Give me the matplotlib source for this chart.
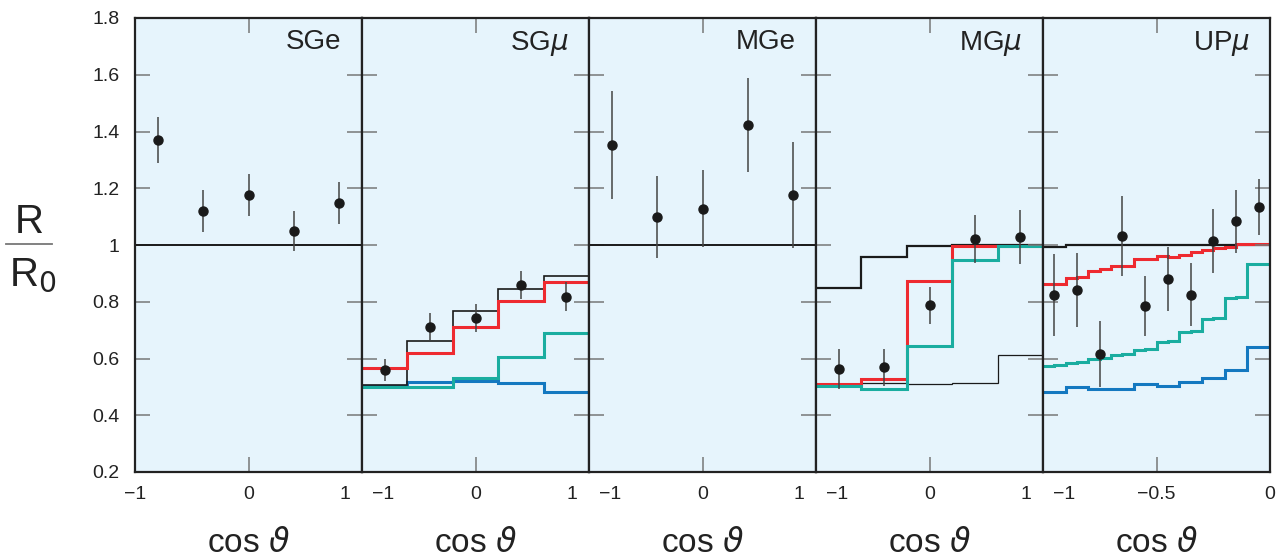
import matplotlib.pyplot as plt
import numpy as np
from matplotlib.lines import Line2D
from matplotlib.transforms import ScaledTranslation

plt.rcParams['font.family'] = ['Liberation Sans', 'DejaVu Sans']
plt.rcParams['mathtext.fontset'] = 'dejavusans'

# Panel names
panels = ['SGe', r'SG$\mu$', 'MGe', r'MG$\mu$', r'UP$\mu$']

# Data points (x, value, error) per panel
x5 = [-0.8, -0.4, 0.0, 0.4, 0.8]
sge_y = [1.37, 1.12, 1.176, 1.05, 1.148]
sge_err = [0.08, 0.075, 0.073, 0.07, 0.075]
sgmu_y = [0.559, 0.712, 0.743, 0.859, 0.818]
sgmu_err = [0.04, 0.048, 0.05, 0.05, 0.05]
mge_y = [1.351, 1.098, 1.128, 1.422, 1.175]
mge_err = [0.19, 0.145, 0.135, 0.165, 0.187]
mgmu_y = [0.562, 0.569, 0.787, 1.022, 1.027]
mgmu_err = [0.07, 0.065, 0.065, 0.085, 0.095]
up_x = [-0.95, -0.85, -0.75, -0.65, -0.55, -0.45, -0.35, -0.25, -0.15, -0.05]
up_y = [0.825, 0.841, 0.616, 1.032, 0.785, 0.881, 0.825, 1.015, 1.083, 1.134]
up_err = [0.145, 0.13, 0.116, 0.14, 0.107, 0.112, 0.11, 0.113, 0.11, 0.1]

# Monte Carlo histograms
edges5 = [-1.0, -0.6, -0.2, 0.2, 0.6, 1.0]
sgmu_black = [0.507, 0.662, 0.767, 0.844, 0.892]
sgmu_red = [0.565, 0.618, 0.710, 0.804, 0.871]
sgmu_teal = [0.500, 0.500, 0.532, 0.606, 0.691]
sgmu_blue = [0.504, 0.516, 0.520, 0.515, 0.483]

mgmu_black = [0.850, 0.957, 0.996, 1.000, 1.000]
mgmu_red = [0.510, 0.528, 0.874, 0.997, 0.997]
mgmu_teal = [0.504, 0.493, 0.644, 0.947, 0.996]
mgmu_thin = [0.510, 0.515, 0.511, 0.514, 0.611]

up_edges10 = [-1.0, -0.9, -0.8, -0.7, -0.6, -0.5, -0.4, -0.3, -0.2, -0.1, 0.0]
up_edges20 = [-1.0, -0.95, -0.9, -0.85, -0.8, -0.75, -0.7, -0.65, -0.6, -0.55,
              -0.5, -0.45, -0.4, -0.35, -0.3, -0.25, -0.2, -0.15, -0.1, -0.05, 0.0]
up_black = [0.993, 1.0, 1.0, 1.0, 1.0, 1.0, 1.0, 1.0, 1.0, 1.0]
up_red = [0.864, 0.864, 0.885, 0.887, 0.908, 0.914, 0.926, 0.926, 0.951, 0.952,
          0.961, 0.958, 0.965, 0.974, 0.982, 0.989, 0.994, 1.002, 1.002, 1.002]
up_teal = [0.574, 0.577, 0.585, 0.586, 0.598, 0.601, 0.613, 0.617, 0.629, 0.632,
           0.659, 0.661, 0.694, 0.697, 0.740, 0.742, 0.812, 0.816, 0.933, 0.933]
up_blue = [0.481, 0.501, 0.492, 0.492, 0.511, 0.504, 0.516, 0.530, 0.559, 0.642]

bg = '#e6f4fc'
red = '#ee2a30'
teal = '#1aada0'
blue = '#1478c0'
black = '#1a1a1a'

fig = plt.figure(figsize=(12.82, 5.57), dpi=100)
left, bottom, w, h = 135 / 1282, 85 / 557, 227 / 1282, 454 / 557
axes = []
for i in range(5):
    ax = fig.add_axes([left + i * w, bottom, w, h])
    ax.set_facecolor(bg)
    ax.set_ylim(0.2, 1.8)
    for s in ax.spines.values():
        s.set_linewidth(1.6)
        s.set_color('#222222')
    ax.tick_params(direction='in', length=11, width=1.1, color='#777777',
                   top=True, right=True, labelsize=14, labelcolor='#222222')
    ax.tick_params(axis='y', pad=11)
    ax.tick_params(axis='x', pad=10)
    ax.set_yticks([0.2, 0.4, 0.6, 0.8, 1.0, 1.2, 1.4, 1.6, 1.8])
    if i == 0:
        ax.set_yticklabels(['0.2', '0.4', '0.6', '0.8', '1', '1.2', '1.4', '1.6', '1.8'])
    else:
        ax.set_yticklabels([])
    if i < 4:
        ax.set_xlim(-1, 1)
        ax.set_xticks([-1, 0, 1])
        ax.set_xticklabels(['\u22121', '0', '1'])
    else:
        ax.set_xlim(-1, 0)
        ax.set_xticks([-1, -0.5, 0])
        ax.set_xticklabels(['\u22121', '\u22120.5', '0'])
    # shift labels that sit on shared panel borders
    labels = ax.get_xticklabels()
    if i > 0:
        labels[0].set_transform(labels[0].get_transform() +
                                ScaledTranslation(21 / 100, 0, fig.dpi_scale_trans))
    if i < 4:
        labels[-1].set_transform(labels[-1].get_transform() +
                                 ScaledTranslation(-17 / 100, 0, fig.dpi_scale_trans))
    ax.text(0.91, 0.975, panels[i], transform=ax.transAxes, ha='right', va='top',
            fontsize=20, color='#222222')
    ax.text(0.5, -0.176, r'cos $\vartheta$', transform=ax.transAxes, ha='center',
            va='baseline', fontsize=24, color='#222222')
    axes.append(ax)

ebkw = dict(fmt='o', color=black, ecolor='#444444', elinewidth=1.1,
            markersize=6.5, capsize=0, zorder=5)
skw = dict(baseline=None)

ax = axes[0]
ax.axhline(1.0, color=black, lw=1.4)
ax.errorbar(x5, sge_y, yerr=sge_err, **ebkw)

ax = axes[1]
ax.stairs(sgmu_blue, edges5, color=blue, lw=2.2, **skw)
ax.stairs(sgmu_teal, edges5, color=teal, lw=2.2, **skw)
ax.stairs(sgmu_black, edges5, color=black, lw=1.2, **skw)
ax.stairs(sgmu_red, edges5, color=red, lw=2.2, **skw)
ax.errorbar(x5, sgmu_y, yerr=sgmu_err, **ebkw)

ax = axes[2]
ax.axhline(1.0, color=black, lw=1.4)
ax.errorbar(x5, mge_y, yerr=mge_err, **ebkw)

ax = axes[3]
ax.stairs(mgmu_thin, edges5, color=black, lw=0.9, **skw)
ax.stairs(mgmu_black, edges5, color=black, lw=1.6, **skw)
ax.stairs(mgmu_red, edges5, color=red, lw=2.2, **skw)
ax.stairs(mgmu_teal, edges5, color=teal, lw=2.2, **skw)
ax.errorbar(x5, mgmu_y, yerr=mgmu_err, **ebkw)

ax = axes[4]
ax.stairs(up_black, up_edges10, color=black, lw=1.6, **skw)
ax.stairs(up_blue, up_edges10, color=blue, lw=2.2, **skw)
ax.stairs(up_teal, up_edges20, color=teal, lw=2.2, **skw)
ax.stairs(up_red, up_edges20, color=red, lw=2.2, **skw)
ax.errorbar(up_x, up_y, yerr=up_err, **ebkw)

# R / R0 label
fig.text(29 / 1282, 1 - 222 / 557, 'R', ha='center', va='center', fontsize=29, color='#222222')
fig.text(33 / 1282, 1 - 275 / 557, r'R$_0$', ha='center', va='center', fontsize=29, color='#222222')
fig.add_artist(Line2D([6 / 1282, 52 / 1282], [1 - 244 / 557, 1 - 244 / 557],
                      color='#777777', lw=1.3, transform=fig.transFigure))

fig.savefig('out.png', dpi=100)
